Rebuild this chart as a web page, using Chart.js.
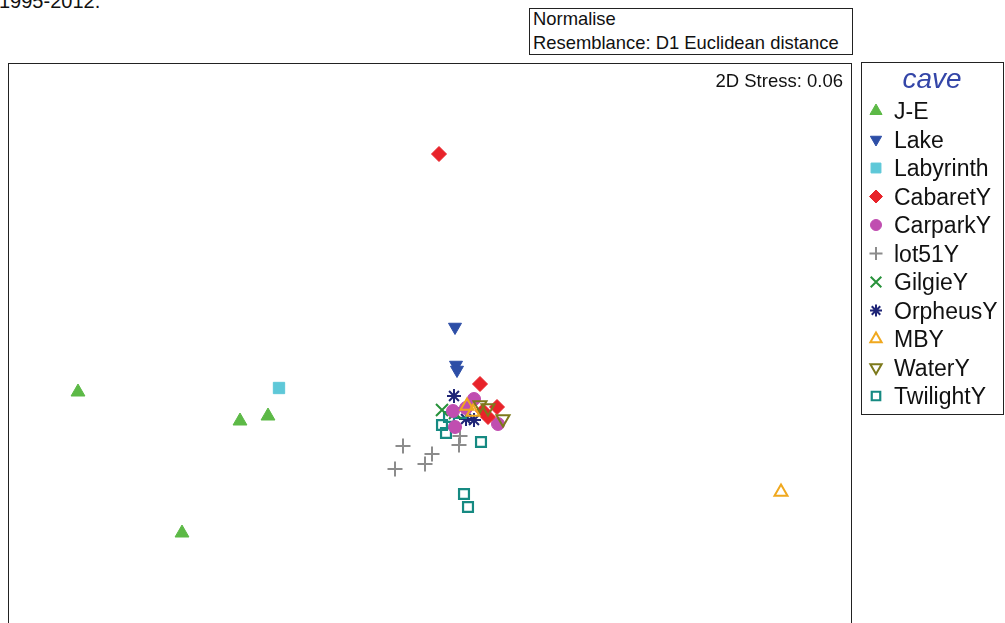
<!DOCTYPE html>
<html lang="en">
<head>
  <meta charset="UTF-8">
  <title>nMDS cave</title>
  <script src="https://cdn.jsdelivr.net/npm/chart.js"></script>
  <style>
    body {
      margin: 0;
      background: #fff;
      font-family: Arial, "Liberation Sans", sans-serif;
      overflow: hidden;
    }
    #mds {
      position: absolute;
      left: 0;
      top: 0;
    }
    #years {
      position: absolute;
      left: -1px;
      top: -9px;
      font-size: 20px;
      line-height: 20px;
      color: #111;
    }
    #resem {
      position: absolute;
      left: 529px;
      top: 8px;
      width: 322px;
      height: 45px;
      border: 1px solid #222;
      font-size: 18.4px;
      line-height: 24px;
      color: #111;
    }
    #resem div {
      position: relative;
      top: -2px;
      left: 3px;
    }
  </style>
</head>
<body>
  <div id="years">1995-2012.</div>
  <div id="resem"><div>Normalise<br>Resemblance: D1 Euclidean distance</div></div>
  <canvas id="mds" width="1005" height="623"></canvas>
  <script>
    // nMDS coordinates per cave group (x = MDS1, y = MDS2)
    const caves = ['J-E', 'Lake', 'Labyrinth', 'CabaretY', 'CarparkY', 'lot51Y',
                   'GilgieY', 'OrpheusY', 'MBY', 'WaterY', 'TwilightY'];

    const jeX = [-3.52, -1.90, -1.62, -2.48];
    const jeY = [-0.54, -0.83, -0.78, -1.95];
    const lakeX = [0.25, 0.26, 0.27];
    const lakeY = [0.11, -0.27, -0.32];
    const labyrinthX = [-1.51];
    const labyrinthY = [-0.50];
    const cabaretX = [0.09, 0.50, 0.67, 0.58, 0.53];
    const cabaretY = [1.84, -0.46, -0.69, -0.79, -0.73];
    const carparkX = [0.44, 0.68, 0.23, 0.25, 0.36];
    const carparkY = [-0.61, -0.86, -0.73, -0.89, -0.70];
    const lot51X = [-0.27, 0.02, -0.05, -0.35, 0.29, 0.30];
    const lot51Y = [-1.08, -1.16, -1.26, -1.31, -1.07, -0.98];
    const gilgieX = [0.12, 0.25];
    const gilgieY = [-0.72, -0.75];
    const orpheusX = [0.24, 0.36, 0.44];
    const orpheusY = [-0.58, -0.81, -0.82];
    const mbyX = [3.51, 0.37, 0.43];
    const mbyY = [-1.54, -0.68, -0.74];
    const waterX = [0.73, 0.50, 0.58];
    const waterY = [-0.81, -0.67, -0.70];
    const twilightX = [0.34, 0.38, 0.51, 0.12, 0.16, 0.19, 0.31];
    const twilightY = [-1.56, -1.69, -1.04, -0.87, -0.95, -0.79, -0.75];

    const stressText = '2D Stress: 0.06';
    const legendTitle = 'cave';

    // marker look for each group, same order as caves (lower z sits on top)
    const styles = [
      { style: 'triangle', r: 8,   rot: 0,   fill: '#5cb946', line: '#5cb946', bw: 1,   z: 0 },
      { style: 'triangle', r: 7.5, rot: 180, fill: '#2d4ea6', line: '#2d4ea6', bw: 1,   z: 0 },
      { style: 'rect',     r: 8,   rot: 0,   fill: '#5ec8d8', line: '#5ec8d8', bw: 1,   z: 0 },
      { style: 'rectRot',  r: 7.5, rot: 0,   fill: '#e8232a', line: '#e8232a', bw: 1,   z: 0 },
      { style: 'circle',   r: 6.5, rot: 0,   fill: '#c04eb0', line: '#c04eb0', bw: 1,   z: 0 },
      { style: 'cross',    r: 7.5, rot: 0,   fill: 'rgba(0,0,0,0)', line: '#8c8c8c', bw: 2,   z: 0 },
      { style: 'crossRot', r: 8.5, rot: 0,   fill: 'rgba(0,0,0,0)', line: '#27923a', bw: 2,   z: 0 },
      { style: 'star',     r: 7,   rot: 0,   fill: 'rgba(0,0,0,0)', line: '#1f2577', bw: 2,   z: 1 },
      { style: 'triangle', r: 7.5, rot: 0,   fill: 'rgba(0,0,0,0)', line: '#f0a81e', bw: 2,   z: -1 },
      { style: 'triangle', r: 7.5, rot: 180, fill: 'rgba(0,0,0,0)', line: '#7d7a1c', bw: 2,   z: -1 },
      { style: 'rect',     r: 7,   rot: 0,   fill: 'rgba(0,0,0,0)', line: '#168a82', bw: 2.2, z: 0 }
    ];

    const xs = [jeX, lakeX, labyrinthX, cabaretX, carparkX, lot51X, gilgieX, orpheusX, mbyX, waterX, twilightX];
    const ys = [jeY, lakeY, labyrinthY, cabaretY, carparkY, lot51Y, gilgieY, orpheusY, mbyY, waterY, twilightY];

    const datasets = caves.map((name, i) => ({
      label: name,
      data: xs[i].map((x, j) => ({ x: x, y: ys[i][j] })),
      order: styles[i].z,
      pointStyle: styles[i].style,
      pointRadius: styles[i].r,
      pointRotation: styles[i].rot,
      pointBackgroundColor: styles[i].fill,
      pointBorderColor: styles[i].line,
      pointBorderWidth: styles[i].bw,
      showLine: false
    }));

    const font = 'Arial, "Liberation Sans", sans-serif';

    // frame round the plot, stress label and the boxed legend on the right
    const frame = {
      id: 'frame',
      beforeDatasetsDraw(chart) {
        const { ctx, chartArea: a } = chart;
        ctx.save();
        ctx.strokeStyle = '#222';
        ctx.lineWidth = 1;
        ctx.strokeRect(a.left - 0.5, a.top - 0.5, a.right - a.left + 1, a.bottom - a.top + 40);
        ctx.fillStyle = '#111';
        ctx.font = '18.5px ' + font;
        ctx.textAlign = 'right';
        ctx.textBaseline = 'alphabetic';
        ctx.fillText(stressText, a.right - 8, 87);
        ctx.restore();
      },
      afterDraw(chart) {
        const ctx = chart.ctx;
        const left = 861, top = 62, right = 1004, bottom = 414;
        ctx.save();
        ctx.strokeStyle = '#222';
        ctx.lineWidth = 1;
        ctx.strokeRect(left + 0.5, top + 0.5, right - left - 1, bottom - top);
        ctx.fillStyle = '#3446a8';
        ctx.font = 'italic 28px ' + font;
        ctx.textAlign = 'center';
        ctx.fillText(legendTitle, 932, 88);
        ctx.font = '23px ' + font;
        ctx.textAlign = 'left';
        caves.forEach((name, i) => {
          const cy = 111 + i * 28.5;
          const s = styles[i];
          ctx.fillStyle = s.fill;
          ctx.strokeStyle = s.line;
          ctx.lineWidth = s.bw;
          Chart.helpers.drawPoint(ctx, { pointStyle: s.style, radius: s.r - 1, rotation: s.rot, borderWidth: s.bw }, 876, cy);
          ctx.fillStyle = '#111';
          ctx.fillText(name, 894, cy + 8);
        });
        ctx.restore();
      }
    };

    new Chart(document.getElementById('mds'), {
      type: 'scatter',
      data: { datasets: datasets },
      options: {
        responsive: false,
        animation: false,
        layout: { autoPadding: false, padding: { left: 9, right: 154, top: 64, bottom: 0 } },
        scales: {
          x: { display: false, min: -4.21, max: 4.21 },
          y: { display: false, min: -2.85, max: 2.74 }
        },
        plugins: {
          legend: { display: false },
          tooltip: { enabled: true }
        }
      },
      plugins: [frame]
    });
  </script>
</body>
</html>
